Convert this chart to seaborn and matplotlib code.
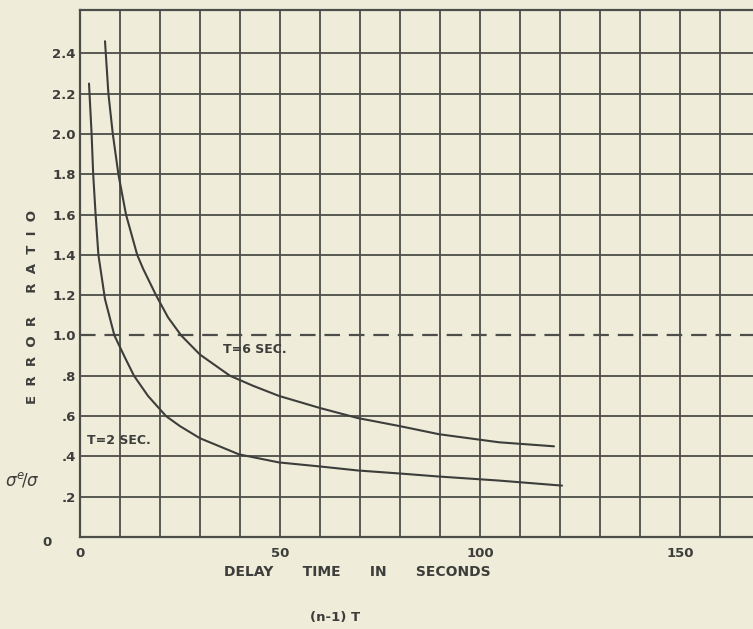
import numpy as np
import pandas as pd
import matplotlib
matplotlib.use("Agg")
import matplotlib.pyplot as plt
import seaborn as sns

# ---- data ----
t2_x = [2.25, 2.9, 3.3, 3.9, 4.6, 6.25, 8.6, 11.25, 13.5, 17.0, 21.5, 25.0, 30.0, 39.75, 49.75, 60.0, 69.5, 80.0, 89.75, 104.75, 120.5]
t2_y = [2.25, 2.0, 1.8, 1.6, 1.4, 1.18, 1.0, 0.89, 0.8, 0.7, 0.6, 0.55, 0.49, 0.41, 0.37, 0.35, 0.33, 0.315, 0.30, 0.28, 0.255]
t6_x = [6.25, 7.1, 8.2, 9.6, 11.5, 14.3, 15.8, 19.0, 22.0, 25.3, 30.0, 37.5, 43.3, 49.75, 60.0, 69.5, 80.0, 89.75, 104.75, 118.5]
t6_y = [2.46, 2.2, 2.0, 1.8, 1.6, 1.4, 1.33, 1.2, 1.09, 1.0, 0.905, 0.8, 0.75, 0.70, 0.64, 0.59, 0.55, 0.51, 0.47, 0.45]

series_labels = ["T=2 SEC.", "T=6 SEC."]
x_ticks = [0, 50, 100, 150]
x_ticklabels = ["0", "50", "100", "150"]
y_ticks = [0.2, 0.4, 0.6, 0.8, 1.0, 1.2, 1.4, 1.6, 1.8, 2.0, 2.2, 2.4]
y_ticklabels = [".2", ".4", ".6", ".8", "1.0", "1.2", "1.4", "1.6", "1.8", "2.0", "2.2", "2.4"]
ref_level = 1.0

df = pd.concat([
    pd.DataFrame({"x": t2_x, "y": t2_y, "series": series_labels[0]}),
    pd.DataFrame({"x": t6_x, "y": t6_y, "series": series_labels[1]}),
], ignore_index=True)

# ---- style ----
sns.set_style("white")
plt.rcParams["font.family"] = ["DejaVu Sans"]
paper = "#efedd9"
ink = "#3d3d3b"
grid_c = "#4d4d4a"

W, H = 753, 629
fig = plt.figure(figsize=(W / 100, H / 100), dpi=100, facecolor=paper)
ax = fig.add_axes([80 / W, 1 - 537 / H, 1 - 80 / W, (537 - 10) / H])
ax.set_facecolor(paper)

sns.lineplot(data=df, x="x", y="y", hue="series", units="series", estimator=None,
             sort=False, palette=[ink, ink], linewidth=1.5, legend=False, ax=ax)
for ln in ax.get_lines():
    ln.set_solid_joinstyle("round")

ax.set_xlim(0, 168.25)
ax.set_ylim(0, 2.615)

ax.set_xticks(x_ticks)
ax.set_xticklabels(x_ticklabels)
ax.set_xticks(np.arange(10, 170, 10), minor=True)
ax.set_yticks(y_ticks)
ax.set_yticklabels(y_ticklabels)

ax.grid(True, which="major", axis="both", color=grid_c, linewidth=1.3)
ax.grid(True, which="minor", axis="x", color=grid_c, linewidth=1.3)
for val, gl in zip(y_ticks, ax.get_ygridlines()):
    if abs(val - ref_level) < 1e-9:
        gl.set_linestyle((0, (7, 4)))
        gl.set_linewidth(1.6)

ax.tick_params(which="both", length=0)
ax.tick_params(axis="x", pad=7, labelsize=9.5, labelcolor=ink)
ax.tick_params(axis="y", pad=3, labelsize=9.5, labelcolor=ink)
for lab in ax.get_xticklabels() + ax.get_yticklabels():
    lab.set_fontweight("bold")

for side in ["left", "bottom", "top"]:
    ax.spines[side].set_visible(True)
    ax.spines[side].set_color(grid_c)
    ax.spines[side].set_linewidth(1.6)
ax.spines["right"].set_visible(False)
ax.set_xlabel("")
ax.set_ylabel("")

# curve labels
ax.text(35.75, 0.93, series_labels[1], fontsize=9, fontweight="bold", color=ink, va="center")
ax.text(1.75, 0.48, series_labels[0], fontsize=9, fontweight="bold", color=ink, va="center")

# y-axis zero label and titles
fig.text(47 / W, 1 - 542 / H, "0", fontsize=9.5, fontweight="bold", color=ink, ha="center", va="center")
fig.text(33 / W, 1 - 307 / H, "E  R  R  O  R     R  A  T  I  O", rotation=90, fontsize=9.5,
         fontweight="bold", color=ink, ha="center", va="center")
fig.text(22 / W, 1 - 480 / H, r"$\sigma^{e}\!/\sigma$", fontsize=12, color=ink, ha="center", va="center")
fig.text(357 / W, 1 - 572 / H, "DELAY      TIME      IN      SECONDS", fontsize=10, fontweight="bold",
         color=ink, ha="center", va="center")
fig.text(335 / W, 1 - 617 / H, "(n-1) T", fontsize=9.5, fontweight="bold", color=ink, ha="center", va="center")

fig.savefig("out.png", dpi=100, facecolor=paper)
